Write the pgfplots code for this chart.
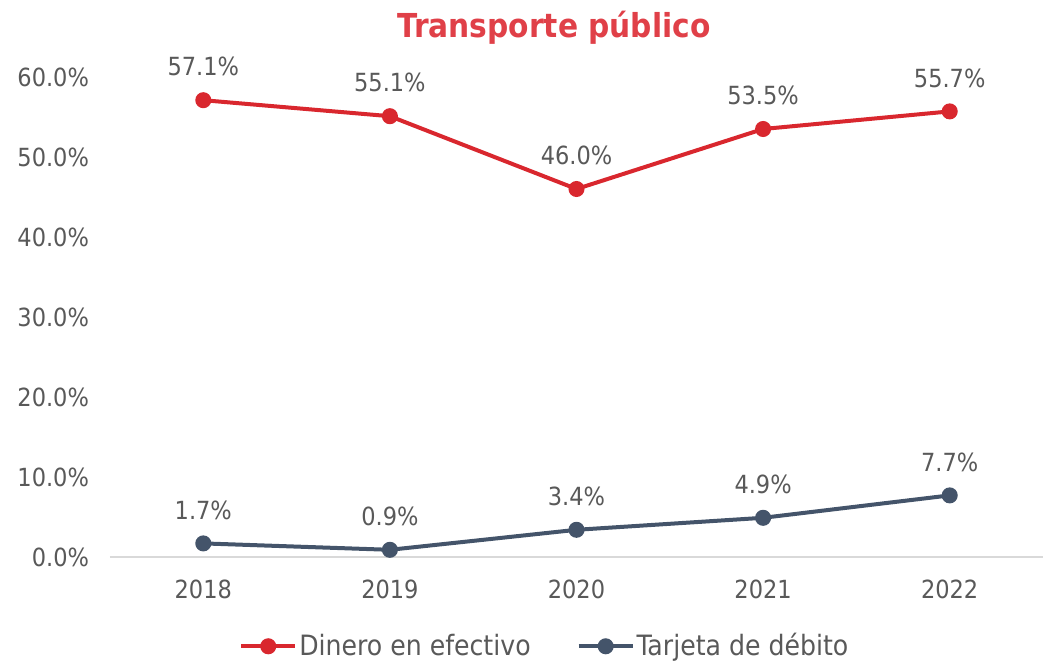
\documentclass[border=0pt]{standalone}
\usepackage{pgfplots}
\pgfplotsset{compat=1.18}
\usepackage{fontspec}
\setmainfont{DejaVu Sans Condensed}
\definecolor{cred}{RGB}{217,39,46}
\definecolor{cblue}{RGB}{68,84,106}
\definecolor{ctxt}{RGB}{89,89,89}
\definecolor{ctitle}{RGB}{224,64,72}
\definecolor{caxis}{RGB}{217,217,217}
\begin{document}
\begin{tikzpicture}
\useasboundingbox (0,0) rectangle (521.5pt,332pt);
\node[font=\fontsize{16.5}{19}\selectfont\bfseries, text=ctitle] at (277pt,318pt) {Transporte público};
\begin{axis}[
  at={(55pt,53.5pt)}, anchor=south west,
  scale only axis, width=466.5pt, height=240pt,
  xmin=-0.5, xmax=4.5, ymin=0, ymax=60,
  xtick={0,1,2,3,4}, xticklabels={2018,2019,2020,2021,2022},
  ytick={0,10,20,30,40,50,60},
  yticklabel={\pgfmathprintnumber[fixed,fixed zerofill,precision=1]{\tick}\%},
  /pgf/number format/assume math mode=true,
  axis x line*=bottom, axis y line*=left,
  x axis line style={draw=caxis, line width=0.8pt, -},
  y axis line style={draw=none},
  major tick length=0pt,
  tick label style={font=\fontsize{12.5}{14}\selectfont, text=ctxt},
  yticklabel style={xshift=-7pt},
  xticklabel style={yshift=-8pt},
  clip=false,
  nodes near coords={\pgfmathprintnumber[fixed,fixed zerofill,precision=1]{\pgfplotspointmeta}\%},
  nodes near coords style={font=\fontsize{12.5}{14}\selectfont, text=ctxt, anchor=south, inner sep=0pt, yshift=11pt},
  legend style={at={(0.466,-0.186)}, anchor=center, draw=none, fill=none,
    legend columns=2, font=\fontsize{14}{16}\selectfont, text=ctxt,
    inner sep=0pt, nodes={inner xsep=1pt},
    /tikz/every even column/.append style={column sep=22pt}},
  legend cell align=left,
  legend image code/.code={
    \draw[#1, mark=none] (0cm,0cm) -- (0.95cm,0cm);
    \draw[#1, only marks] plot coordinates {(0.475cm,0cm)};
  },
]
\addplot[cred, line width=2pt, mark=*, mark size=3pt, mark options={solid}] coordinates {(0,57.1) (1,55.1) (2,46.0) (3,53.5) (4,55.7)};
\addlegendentry{Dinero en efectivo}
\addplot[cblue, line width=2pt, mark=*, mark size=3pt, mark options={solid}] coordinates {(0,1.7) (1,0.9) (2,3.4) (3,4.9) (4,7.7)};
\addlegendentry{Tarjeta de débito}
\end{axis}
\end{tikzpicture}
\end{document}
